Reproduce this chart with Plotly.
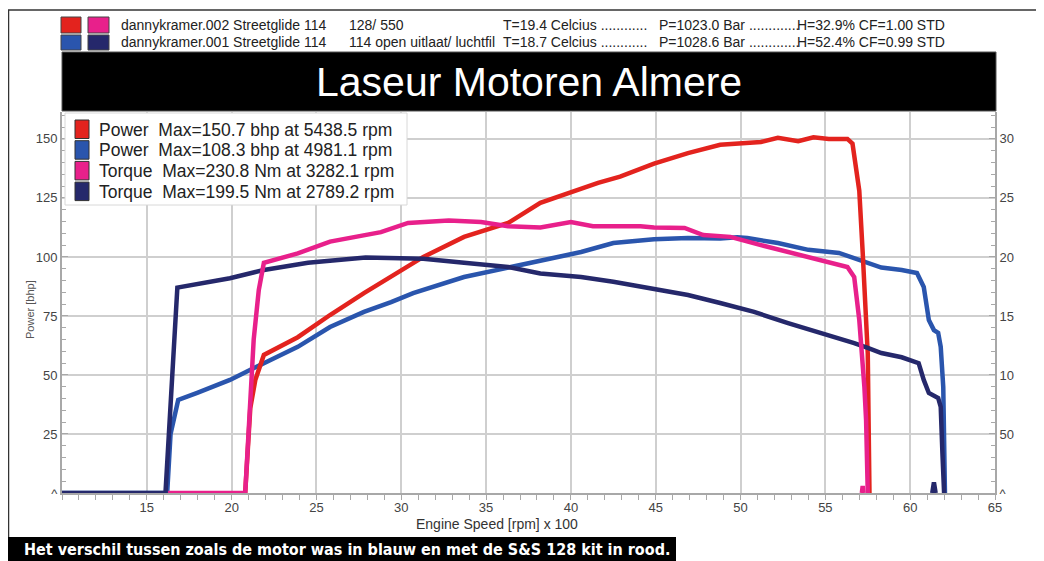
import plotly.graph_objects as go

# ---------------- data (rpm x 100) ----------------
rpm_red = [20.8, 21.1, 21.4, 21.9, 23.9, 25.8, 27.8, 29.4, 31.3, 33.7, 36.3, 38.2, 40.0, 41.6,
           42.9, 44.1, 44.9, 46.9, 48.8, 51.2, 52.2, 53.4, 54.3, 55.2, 56.3, 56.6, 57.0, 57.2,
           57.5, 57.6]
power_red = [0, 36, 48, 58.5, 66, 75.4, 84.7, 91.5, 100, 108.5, 114.4, 122.9, 127.5, 131.4,
             134, 137.5, 139.5, 144, 147.5, 148.7, 150.5, 149, 150.7, 150, 150, 148, 128, 102,
             59, 0]

rpm_blue = [10, 16.2, 16.4, 16.85, 17.97, 19.9, 21.9, 23.9, 25.8, 27.8, 29.4, 30.7, 33.7, 36.6,
            38.6, 40.6, 42.5, 44.1, 44.9, 46.9, 48.8, 49.8, 50.4, 52.2, 54.0, 55.8, 57.1, 58.3,
            59.5, 60.4, 60.8, 61.1, 61.4, 61.65, 61.8, 61.95, 62.05]
power_blue = [0, 0, 25, 39.4, 42.4, 47.9, 55, 61.9, 70.3, 76.7, 80.9, 84.7, 91.5, 95.8,
              98.7, 102.1, 105.9, 107.2, 107.5, 108.0, 107.8, 108.3, 108.0, 105.9, 103, 101.7,
              98.5, 95.5, 94.5, 93.2, 87.3, 73.3, 69, 67.8, 61.9, 44.9, 0]

rpm_pink = [16.25, 20.8, 21.3, 21.6, 21.9, 23.9, 25.8, 28.8, 30.4, 32.8, 34.7, 36.3, 38.2, 40.0,
            41.3, 44.1, 44.9, 46.7, 47.8, 49.4, 51.2, 53.4, 55.2, 56.3, 56.7, 57.0, 57.3, 57.4,
            57.5, None, 57.15, 57.2, 57.25]
torque_pink = [0, 0, 130, 172, 195, 203, 213, 221, 228.8, 230.8, 229.6, 226, 225, 229.5,
               226, 226, 225, 224.6, 218.6, 217, 210, 201.7, 195.8, 191.5, 183, 146.6, 90, 62,
               0, None, 0, 6, 0]

rpm_navy = [10, 16.1, 16.8, 19.9, 21.9, 24.5, 27.9, 28.8, 31.3, 33.7, 36.3, 38.2, 40.6, 42.5,
            42.9, 44.1, 44.9, 46.9, 48.8, 50.8, 52.8, 53.6, 54.7, 55.5, 56.7, 57.5, 58.3, 59.5,
            60.5, 60.8, 61.1, 61.65, 61.8, 61.9, 62.0, None, 61.3, 61.4, 61.5]
torque_navy = [0, 0, 174, 182, 189, 195, 199.5, 199.3, 198.5, 195, 191.5, 186, 183, 179,
               178, 174.6, 172.5, 167.8, 161, 153.4, 144, 140.7, 135.6, 132, 127, 122.9, 118.6,
               115, 110, 95.8, 84.7, 80.5, 72.9, 34, 0, None, 0, 9, 0]

x_ticks = [15, 20, 25, 30, 35, 40, 45, 50, 55, 60, 65]
y_ticks = [0, 25, 50, 75, 100, 125, 150]
y_ticktext = ["^", "25", "50", "75", "100", "125", "150"]
y2_ticks = [0, 50, 100, 150, 200, 250, 300]
y2_ticktext = ["^", "50", "10", "15", "20", "25", "30"]

header_rows = [
    ["dannykramer.002 Streetglide 114", "128/ 550", "T=19.4 Celcius ............",
     "P=1023.0 Bar .............", "H=32.9% CF=1.00 STD"],
    ["dannykramer.001 Streetglide 114", "114 open uitlaat/ luchtfil", "T=18.7 Celcius ............",
     "P=1028.6 Bar .............", "H=52.4% CF=0.99 STD"],
]
legend_rows = [
    "Power  Max=150.7 bhp at 5438.5 rpm",
    "Power  Max=108.3 bhp at 4981.1 rpm",
    "Torque  Max=230.8 Nm at 3282.1 rpm",
    "Torque  Max=199.5 Nm at 2789.2 rpm",
]
title_text = "Laseur Motoren Almere"
caption_text = "Het verschil tussen zoals de motor was in blauw en met de S&S 128 kit in rood."
x_title = "Engine Speed [rpm] x 100"
y_title = "Power [bhp]"

RED, BLUE, PINK, NAVY = "#e3231e", "#2a55ad", "#e8208b", "#25286b"

# ---------------- layout geometry (reference pixels) ----------------
OFF = 8                      # page body margin offset
W, H = 1044, 561
L, R, T, B = 62, 995, 112, 493


def fx(p):
    return (p - L) / (R - L)


def fy(p):
    return (B - p) / (B - T)


fig = go.Figure()
line_w = 4.5
fig.add_trace(go.Scatter(x=rpm_blue, y=power_blue, mode="lines",
                         line=dict(color=BLUE, width=line_w), yaxis="y", hoverinfo="skip"))
fig.add_trace(go.Scatter(x=rpm_red, y=power_red, mode="lines",
                         line=dict(color=RED, width=line_w), yaxis="y", hoverinfo="skip"))
fig.add_trace(go.Scatter(x=rpm_navy, y=torque_navy, mode="lines",
                         line=dict(color=NAVY, width=line_w), yaxis="y2", hoverinfo="skip"))
fig.add_trace(go.Scatter(x=rpm_pink, y=torque_pink, mode="lines",
                         line=dict(color=PINK, width=line_w), yaxis="y2", hoverinfo="skip"))

GRID = "#cfcfcf"
AX = "#a8a8a8"
tickfont = dict(family="Liberation Sans, Arial, sans-serif", size=13, color="#444")

fig.update_layout(
    width=W - OFF, height=H - OFF,
    margin=dict(l=L - OFF, r=W - R, t=T - OFF, b=H - B, pad=0),
    paper_bgcolor="white", plot_bgcolor="white",
    showlegend=False,
    xaxis=dict(range=[10, 65], tickvals=x_ticks, showgrid=True, gridcolor=GRID, gridwidth=1.5,
               zeroline=False, showline=True, linecolor=AX, linewidth=2,
               ticks="outside", ticklen=5, tickcolor=AX, tickfont=tickfont,
               ticklabelstandoff=-4,
               minor=dict(dtick=1, ticks="outside", ticklen=5, tickcolor=AX, showgrid=False)),
    yaxis=dict(range=[0, 161.4], tickvals=y_ticks, ticktext=y_ticktext, showgrid=True,
               gridcolor=GRID, gridwidth=1.5, zeroline=False, showline=True, linecolor=AX,
               linewidth=2, ticks="inside", ticklen=6, tickcolor=AX, tickfont=tickfont,
               minor=dict(dtick=5, ticks="inside", ticklen=4, tickcolor=AX, showgrid=False)),
    yaxis2=dict(range=[0, 322.8], overlaying="y", side="right", tickvals=y2_ticks,
                ticktext=y2_ticktext, showgrid=False, zeroline=False, showline=True,
                linecolor=AX, linewidth=2, ticks="inside", ticklen=6, tickcolor=AX,
                tickfont=tickfont,
                minor=dict(dtick=10, ticks="inside", ticklen=4, tickcolor=AX, showgrid=False)),
)

shapes = []
annotations = []
P = dict(xref="paper", yref="paper")

# outer frame lines
shapes.append(dict(type="line", x0=fx(8), x1=fx(1044), y0=fy(10), y1=fy(10),
                   line=dict(color="#333", width=1.5), **P))
shapes.append(dict(type="line", x0=fx(8.5), x1=fx(8.5), y0=fy(10), y1=fy(537),
                   line=dict(color="#333", width=1.5), **P))
# title banner
shapes.append(dict(type="rect", x0=fx(62), x1=fx(996), y0=fy(52), y1=fy(111),
                   fillcolor="black", line=dict(color="#555", width=1), **P))
annotations.append(dict(text=title_text, x=fx(529), y=fy(82), xanchor="center", yanchor="middle",
                        showarrow=False, font=dict(family="Liberation Sans, Arial, sans-serif",
                                                   size=41, color="white"), **P))
# caption bar
shapes.append(dict(type="rect", x0=fx(8), x1=fx(676), y0=fy(537), y1=fy(561),
                   fillcolor="black", line=dict(width=0), **P))
annotations.append(dict(text="<b>" + caption_text.replace("&", "&amp;") + "</b>", x=fx(22),
                        y=fy(549), xanchor="left", yanchor="middle", showarrow=False,
                        font=dict(family="Liberation Sans Narrow, DejaVu Sans Condensed, Liberation Sans, sans-serif",
                                  size=16, color="white"), **P))

# header swatches and text
hdr_cols = [[RED, PINK], [BLUE, NAVY]]
hdr_y = [(17, 33), (35, 50)]
hdr_x = [119, 347, 501, 657, 795]
hdr_font = dict(family="Liberation Sans, Arial, sans-serif", size=14, color="#222")
for r in range(2):
    for c, (x0, x1) in enumerate([(61, 81), (88, 109)]):
        shapes.append(dict(type="rect", x0=fx(x0), x1=fx(x1), y0=fy(hdr_y[r][0]),
                           y1=fy(hdr_y[r][1]), fillcolor=hdr_cols[r][c],
                           line=dict(color="#444", width=1), **P))
    for txt, xx in zip(header_rows[r], hdr_x):
        annotations.append(dict(text=txt, x=fx(xx), y=fy((hdr_y[r][0] + hdr_y[r][1]) / 2),
                                xanchor="left", yanchor="middle", showarrow=False,
                                font=hdr_font, **P))

# inner legend
shapes.append(dict(type="rect", x0=fx(65), x1=fx(407), y0=fy(113), y1=fy(205),
                   fillcolor="white", line=dict(color="#d8d8d8", width=1), layer="above", **P))
leg_cols = [RED, BLUE, PINK, NAVY]
for i, (txt, col) in enumerate(zip(legend_rows, leg_cols)):
    y0 = 120 + i * 20.7
    shapes.append(dict(type="rect", x0=fx(75), x1=fx(89), y0=fy(y0), y1=fy(y0 + 18.5),
                       fillcolor=col, line=dict(color="#333", width=1), layer="above", **P))
    annotations.append(dict(text=txt, x=fx(97), y=fy(y0 + 9.5), xanchor="left", yanchor="middle",
                            showarrow=False,
                            font=dict(family="Liberation Sans, Arial, sans-serif", size=17.5,
                                      color="#222"), **P))

# axis titles
annotations.append(dict(text=x_title, x=fx(497), y=fy(524), xanchor="center", yanchor="middle",
                        showarrow=False,
                        font=dict(family="Liberation Sans, Arial, sans-serif", size=14,
                                  color="#333"), **P))
annotations.append(dict(text=y_title, x=fx(30), y=fy(310), xanchor="center", yanchor="middle",
                        textangle=-90, showarrow=False,
                        font=dict(family="Liberation Sans, Arial, sans-serif", size=11,
                                  color="#555"), **P))

fig.update_layout(shapes=shapes, annotations=annotations)
fig.write_html("out.html")
